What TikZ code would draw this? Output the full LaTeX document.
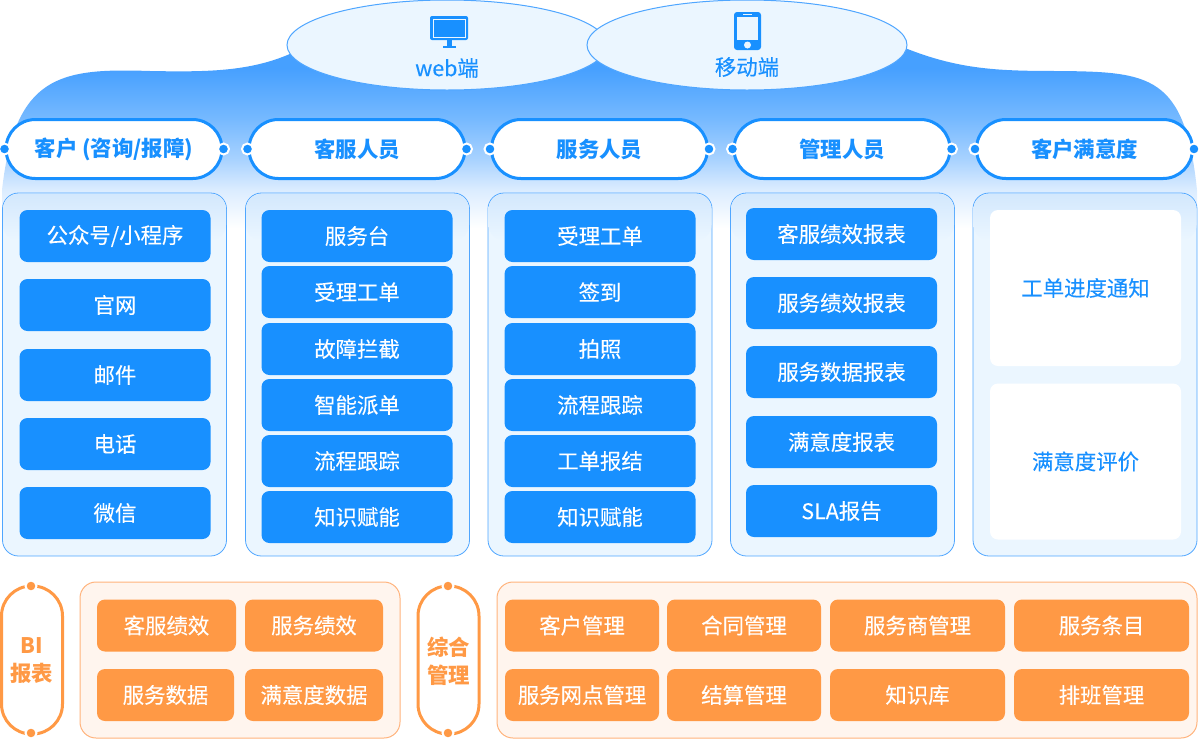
\documentclass[tikz,border=0pt]{standalone}
\usepackage{fontspec}
\setmainfont{Noto Sans CJK SC}[FakeBold=0.2, BoldFeatures={FakeBold=0}]
\usetikzlibrary{shapes.geometric}
\definecolor{mainblue}{HTML}{1890FF}
\definecolor{paleblue}{HTML}{EBF6FF}
\definecolor{edgeblue}{HTML}{4FA6FF}
\definecolor{mainorange}{HTML}{FF9945}
\definecolor{paleorange}{HTML}{FFF5EE}
\definecolor{edgeorange}{HTML}{FFB37C}
\definecolor{cloudA}{HTML}{DBECFF}
\definecolor{cloudB}{HTML}{A8D2FF}
\definecolor{cloudC}{HTML}{76B9FF}
\definecolor{cloudD}{HTML}{46A0FF}
\definecolor{paneltop}{HTML}{D3E8FD}
\pgfdeclareverticalshading{cloudshade}{100bp}{color(0bp)=(white); color(25bp)=(white); color(35.7bp)=(cloudA); color(44.1bp)=(cloudB); color(55.3bp)=(cloudC); color(69.4bp)=(cloudD); color(100bp)=(cloudD)}
\tikzset{
	bluepanel/.style={draw=edgeblue, fill=paleblue, line width=0.4pt, rounded corners=8pt, minimum width=112pt, minimum height=181.5pt, inner sep=0pt},
	panelglow/.style={top color=paneltop, bottom color=paleblue, rounded corners=7.5pt},
	bluecell/.style={fill=mainblue, text=white, rounded corners=4pt, minimum width=95.5pt, minimum height=26pt, inner sep=0pt},
	whitecell/.style={fill=white, text=mainblue, rounded corners=4pt, minimum width=95.5pt, minimum height=78pt, inner sep=0pt},
	headpill/.style={draw=mainblue, fill=white, text=mainblue, line width=1.5pt, rounded corners=14.7pt, minimum width=108pt, minimum height=29.5pt, inner sep=0pt, font=\fontsize{10.7pt}{14pt}\selectfont\bfseries},
	bluedot/.style={circle, fill=mainblue, draw=white, line width=1pt, minimum size=5.5pt, inner sep=0pt},
	clientoval/.style={ellipse, draw=edgeblue, fill=paleblue, line width=0.5pt, minimum width=160pt, minimum height=45pt, inner sep=0pt},
	orangepanel/.style={draw=edgeorange, fill=paleorange, line width=0.5pt, rounded corners=8pt, minimum height=78pt, inner sep=0pt},
	orangecell/.style={fill=mainorange, text=white, rounded corners=4pt, minimum height=26pt, inner sep=0pt},
	sidepill/.style={draw=mainorange, fill=white, text=mainorange, line width=1.5pt, rounded corners=15pt, minimum width=30.5pt, minimum height=74pt, inner sep=0pt, align=center, font=\fontsize{10.7pt}{14pt}\selectfont\bfseries, text depth=0pt},
	orangedot/.style={circle, fill=mainorange, draw=white, line width=1pt, minimum size=5.5pt, inner sep=0pt},
}

\begin{document}
\begin{tikzpicture}[x=0.5pt, y=-0.5pt, font=\fontsize{10.7pt}{14pt}\selectfont]
	\useasboundingbox (0,0) rectangle (1200,740);

	% blue backdrop behind the top
	\shade[shading=cloudshade] (292,53) .. controls (250,72) and (205,72) .. (150,71)
		.. controls (60,68) and (15,75) .. (2,190) -- (2,228) -- (1197,228) -- (1197,190)
		.. controls (1185,75) and (1150,72) .. (1060,71)
		.. controls (1000,71) and (960,70) .. (905,48) -- cycle;

	% clients
	\node[clientoval] (web) at (447,45) {};
	\node[clientoval] (mobile) at (747,45) {};
	\node[text=mainblue, inner sep=0pt] (webtext) at (447,68) {web端};
	\node[text=mainblue, inner sep=0pt] (mobiletext) at (747,67) {移动端};

	% monitor
	\fill[mainblue, rounded corners=1pt] (430,16) rectangle (468,40);
	\draw[paleblue, line width=0.4pt] (433,19) rectangle (465,37);
	\fill[mainblue] (446.5,40) rectangle (451.5,46);
	\fill[mainblue] (443,46) rectangle (456,48);
	% phone
	\fill[mainblue, rounded corners=1.5pt] (734,12) rectangle (761,50);
	\fill[paleblue] (737,16.5) rectangle (758,40);
	\fill[paleblue] (743,13.5) rectangle (752,15);
	\fill[paleblue] (747.5,45) circle (3.5);

	% columns
	\foreach \col/\x/\title in {A/114.5/{客户 (咨询/报障)}, B/357.5/客服人员, C/600/服务人员, D/842.5/管理人员, E/1085/客户满意度} {
		\node[bluepanel] (panel\col) at (\x,374.5) {};
		\shade[panelglow] (\x-111.5,194) rectangle (\x+111.5,240);
		\node[headpill] (pill\col) at (\x-0.5,149) {\title};
		\node[bluedot] (pill\col l) at (pill\col.west) {};
		\node[bluedot] (pill\col r) at (pill\col.east) {};
	}

	\foreach \y/\txt [count=\i] in {236/{公众号/小程序}, 305/官网, 375/邮件, 444/电话, 513/微信}
		\node[bluecell] (cellA\i) at (115,\y) {\txt};
	\foreach \y/\txt [count=\i] in {236/服务台, 292/受理工单, 349/故障拦截, 405/智能派单, 461/流程跟踪, 517/知识赋能}
		\node[bluecell] (cellB\i) at (357,\y) {\txt};
	\foreach \y/\txt [count=\i] in {236/受理工单, 292/签到, 349/拍照, 405/流程跟踪, 461/工单报结, 517/知识赋能}
		\node[bluecell] (cellC\i) at (600,\y) {\txt};
	\foreach \y/\txt [count=\i] in {234/客服绩效报表, 303/服务绩效报表, 372/服务数据报表, 442/满意度报表, 511/SLA报告}
		\node[bluecell] (cellD\i) at (841.5,\y) {\txt};

	\node[whitecell] (notice) at (1085.5,288) {工单进度通知};
	\node[whitecell] (rating) at (1085.5,461.5) {满意度评价};

	% bottom row
	\node[sidepill] (bi) at (32,660) {BI\\报表};
	\node[orangedot] (bitop) at (31,586) {};
	\node[orangedot] (bibot) at (31,733) {};
	\node[orangepanel, minimum width=160pt] (bipanel) at (240,660) {};
	\node[orangecell, minimum width=69.5pt] (bicell1) at (166.5,625.5) {客服绩效};
	\node[orangecell, minimum width=69pt] (bicell2) at (314,625.5) {服务绩效};
	\node[orangecell, minimum width=68.5pt] (bicell3) at (165.5,695) {服务数据};
	\node[orangecell, minimum width=69pt] (bicell4) at (314,695) {满意度数据};

	\node[sidepill] (manage) at (448.5,660) {综合\\管理};
	\node[orangedot] (managetop) at (448,586) {};
	\node[orangedot] (managebot) at (448,733) {};
	\node[orangepanel, minimum width=350pt] (managepanel) at (847,660) {};
	\foreach \y/\row/\txta/\txtb/\txtc/\txtd in {625.5/1/客户管理/合同管理/服务商管理/服务条目, 695/2/服务网点管理/结算管理/知识库/排班管理} {
		\node[orangecell, minimum width=77pt] (mcell\row a) at (582,\y) {\txta};
		\node[orangecell, minimum width=77pt] (mcell\row b) at (744,\y) {\txtb};
		\node[orangecell, minimum width=87.5pt] (mcell\row c) at (917.5,\y) {\txtc};
		\node[orangecell, minimum width=87.5pt] (mcell\row d) at (1101.5,\y) {\txtd};
	}
\end{tikzpicture}
\end{document}
